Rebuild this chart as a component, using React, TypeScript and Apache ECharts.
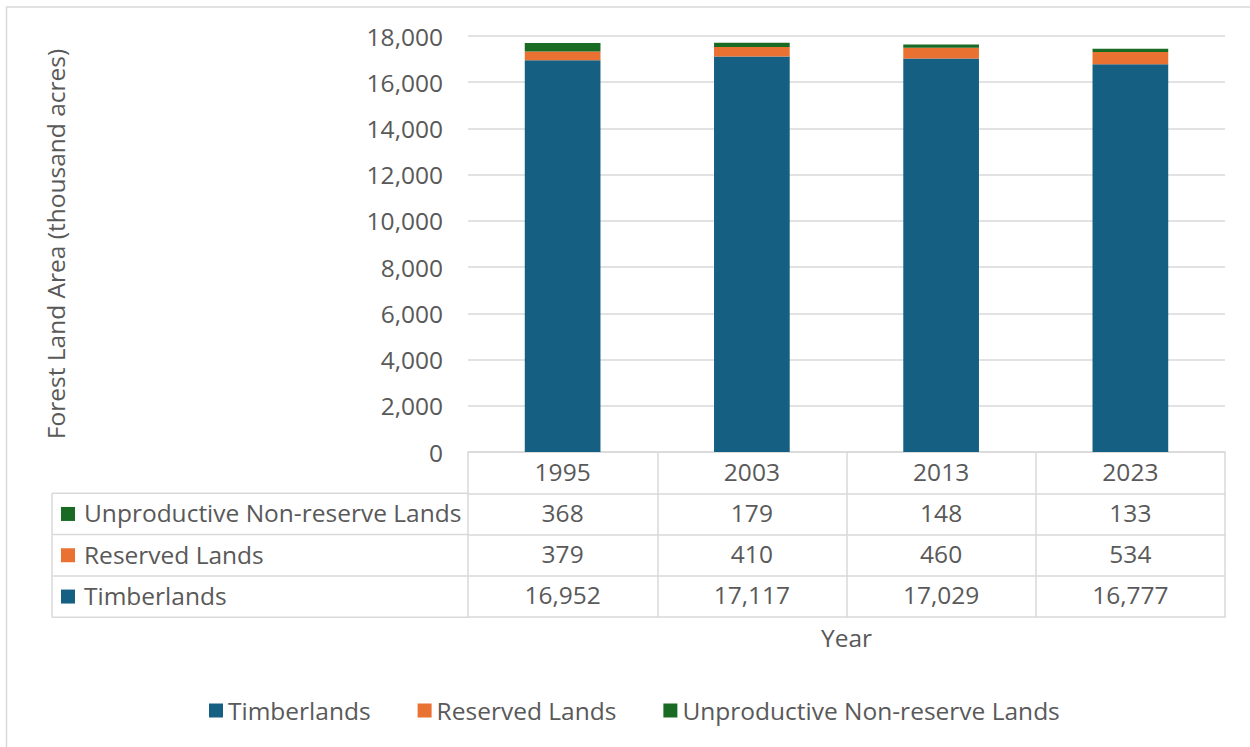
import React, { useEffect, useRef } from "react";
import * as echarts from "echarts";

const years = ["1995", "2003", "2013", "2023"];
const timberlands = [16952, 17117, 17029, 16777];
const reserved = [379, 410, 460, 534];
const unproductive = [368, 179, 148, 133];
const seriesNames = ["Timberlands", "Reserved Lands", "Unproductive Non-reserve Lands"];
const seriesColors = ["#156082", "#E97132", "#196B24"];
const yTicks = { min: 0, max: 18000, interval: 2000 };

const FONT = '"Open Sans", "Noto Sans", sans-serif';
const FS = 24.5;
const TEXT = "#595959";
const LINE = "#d9d9d9";

const fmt = (v: number) => v.toLocaleString("en-US");

export default function App() {
  const ref = useRef<HTMLDivElement>(null);
  useEffect(() => {
    if (!ref.current) return;
    const chart = echarts.init(ref.current, null, { renderer: "svg" });

    const gridLeft = 468;
    const gridRight = 25;
    const gridTop = 36;
    const gridBottomY = 452;
    const rowH = 41.3;
    const tableLeft = 52;

    // Table rows (top to bottom): Unproductive, Reserved, Timberlands
    const rows = [
      { name: seriesNames[2], color: seriesColors[2], values: unproductive },
      { name: seriesNames[1], color: seriesColors[1], values: reserved },
      { name: seriesNames[0], color: seriesColors[0], values: timberlands },
    ];

    const rowAxes = rows.map((r, i) => ({
      type: "category" as const,
      data: years,
      gridIndex: 0,
      position: "bottom" as const,
      offset: rowH * (i + 1),
      axisLine: { show: true, lineStyle: { color: LINE, width: 1.5 } },
      axisTick: { show: false },
      axisLabel: {
        show: true,
        interval: 0,
        margin: 7,
        fontSize: FS,
        lineHeight: 24,
        fontFamily: FONT,
        color: TEXT,
        formatter: (_v: string, idx: number) => fmt(r.values[idx]),
      },
      splitLine: { show: false },
    }));

    const graphics: any[] = [
      {
        type: "rect",
        shape: { x: 6.5, y: 7, width: 1400, height: 900 },
        style: { fill: "none", stroke: LINE, lineWidth: 1.5 },
        silent: true,
      },
      {
        type: "line",
        shape: { x1: tableLeft, y1: gridBottomY + rowH, x2: tableLeft, y2: gridBottomY + rowH * 4 },
        style: { stroke: LINE, lineWidth: 1.5 },
      },
    ];
    for (let i = 1; i <= 4; i++) {
      graphics.push({
        type: "line",
        shape: { x1: tableLeft, y1: gridBottomY + rowH * i, x2: gridLeft, y2: gridBottomY + rowH * i },
        style: { stroke: LINE, lineWidth: 1.5 },
      });
    }
    rows.forEach((r, i) => {
      const cy = gridBottomY + rowH * (i + 1) + rowH / 2;
      graphics.push({
        type: "rect",
        shape: { x: 61, y: cy - 7, width: 14, height: 14 },
        style: { fill: r.color },
      });
      graphics.push({
        type: "text",
        style: {
          x: 84,
          y: cy - 1,
          text: r.name,
          fill: TEXT,
          font: `${FS}px ${FONT}`,
          verticalAlign: "middle",
          align: "left",
        },
      });
    });

    const option: any = {
      animation: false,
      backgroundColor: "#fff",
      textStyle: { fontFamily: FONT },
      grid: { left: gridLeft, right: gridRight, top: gridTop, bottom: 747 - gridBottomY, containLabel: false },
      legend: {
        data: seriesNames,
        left: 204,
        top: 693,
        itemWidth: 14,
        itemHeight: 14,
        itemGap: 47,
        icon: "rect",
        textStyle: { fontSize: FS, lineHeight: 24, color: TEXT, fontFamily: FONT },
      },
      xAxis: [
        {
          type: "category",
          data: years,
          position: "bottom",
          axisLine: { show: true, lineStyle: { color: LINE, width: 1.5 } },
          axisTick: { show: true, length: rowH * 4, interval: 0, lineStyle: { color: LINE, width: 1.5 } },
          axisLabel: { interval: 0, margin: 7, fontSize: FS, lineHeight: 24, color: TEXT, fontFamily: FONT },
        },
        ...rowAxes,
        {
          type: "category",
          data: years,
          position: "bottom",
          offset: rowH * 4,
          axisLine: { show: true, lineStyle: { color: LINE, width: 1.5 } },
          axisTick: { show: false },
          axisLabel: { show: false },
          name: "Year",
          nameLocation: "middle",
          nameGap: 8,
          nameTextStyle: { fontSize: FS, lineHeight: 24, color: TEXT, fontFamily: FONT },
        },
      ],
      yAxis: {
        type: "value",
        min: yTicks.min,
        max: yTicks.max,
        interval: yTicks.interval,
        name: "Forest Land Area (thousand acres)",
        nameLocation: "middle",
        nameRotate: 90,
        nameGap: 401,
        nameTextStyle: { fontSize: FS, lineHeight: 24, color: TEXT, fontFamily: FONT },
        axisLine: { show: false },
        axisTick: { show: false },
        axisLabel: {
          margin: 25,
          fontSize: FS,
          color: TEXT,
          fontFamily: FONT,
          formatter: (v: number) => fmt(v),
        },
        splitLine: { lineStyle: { color: LINE, width: 1.5 } },
      },
      series: [
        { name: seriesNames[0], type: "bar", stack: "total", data: timberlands, barWidth: "40%", itemStyle: { color: seriesColors[0] } },
        { name: seriesNames[1], type: "bar", stack: "total", data: reserved, barWidth: "40%", itemStyle: { color: seriesColors[1] } },
        { name: seriesNames[2], type: "bar", stack: "total", data: unproductive, barWidth: "40%", itemStyle: { color: seriesColors[2] } },
      ],
      graphic: graphics,
    };
    chart.setOption(option);
    return () => chart.dispose();
  }, []);
  return (
    <div
      ref={ref}
      style={{ position: "absolute", left: 0, top: 0, width: 1250, height: 747 }}
    />
  );
}
